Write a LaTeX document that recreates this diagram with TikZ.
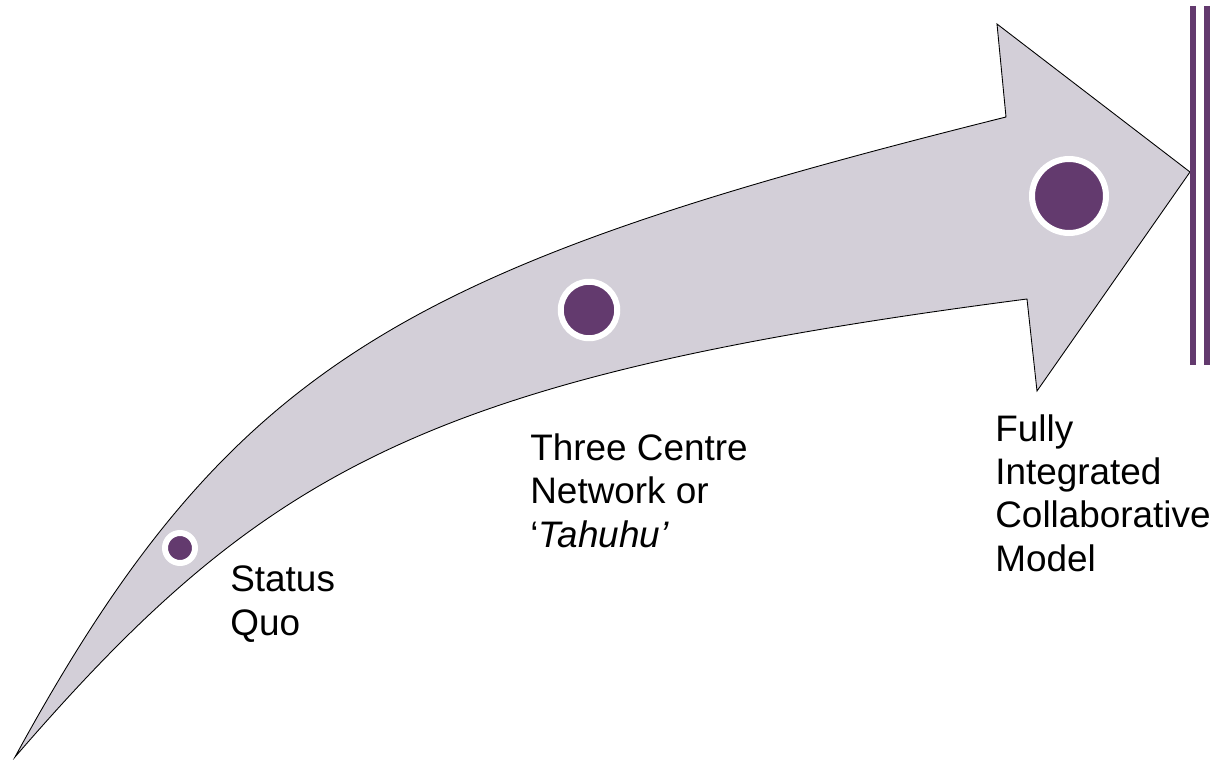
\documentclass[tikz,border=0pt]{standalone}
\usepackage{fontspec}
\setmainfont{Liberation Sans}
\definecolor{arrowgrey}{RGB}{211,207,216}
\definecolor{stagepurple}{RGB}{99,58,110}
\tikzset{
  stagedot/.style={circle, fill=stagepurple, draw=white, line width=0.12cm, inner sep=0pt},
  stagelabel/.style={anchor=base west, align=left, inner sep=0pt, font=\fontsize{21}{24.5}\selectfont},
}
\begin{document}
\begin{tikzpicture}[x=0.02cm, y=-0.02cm]
% Frame of the picture (pixel grid, y pointing down)
\useasboundingbox (0, 0) rectangle (1218, 760);

% The sweeping arrow
\draw[fill=arrowgrey, line width=0.5pt, line join=miter]
  (15, 757) .. controls (231, 361) and (406, 267) .. (1006, 117)
  -- (997, 24) -- (1190, 172) -- (1037, 391) -- (1027, 299)
  .. controls (427, 377) and (265, 468) .. (15, 757) -- cycle;

% Goal bar
\draw[stagepurple, line width=0.12cm] (1193, 6) -- (1193, 365);
\draw[stagepurple, line width=0.12cm] (1207, 6) -- (1207, 365);

% Stages along the arrow
\node[stagedot, minimum size=0.6cm] (quo) at (180, 548) {};
\node[stagedot, minimum size=1.13cm] (tahuhu) at (589, 310) {};
\node[stagedot, minimum size=1.48cm] (model) at (1069, 196) {};

% Labels (anchored at the baseline of the last line)
\node[stagelabel] (quolabel) at (230, 635) {Status\\Quo};
\node[stagelabel] (tahuhulabel) at (530, 547) {Three Centre\\Network or\\‘\textit{Tahuhu’}};
\node[stagelabel] (modellabel) at (995, 571) {Fully\\Integrated\\Collaborative\\Model};
\end{tikzpicture}
\end{document}
